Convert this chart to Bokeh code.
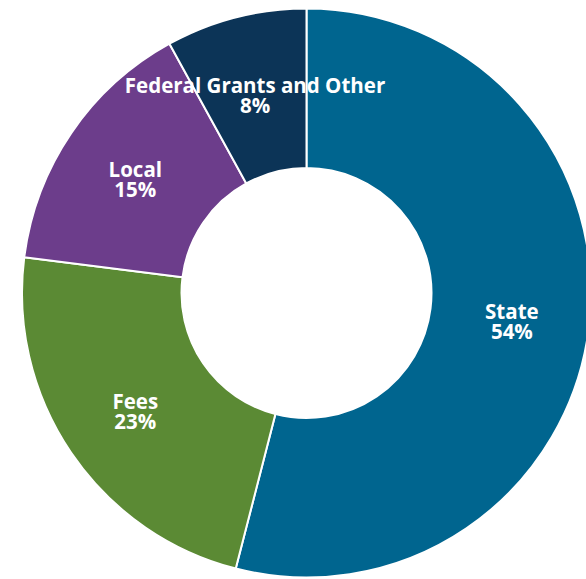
import numpy as np
from bokeh.plotting import figure
from bokeh.models import Range1d, ColumnDataSource
from bokeh.core.properties import value
from bokeh.embed import file_html
from bokeh.resources import INLINE

categories = ["State", "Fees", "Local", "Federal Grants and Other"]
shares = [54, 23, 15, 8]
colors = ["#00658F", "#5B8A34", "#6C3D8B", "#0C3457"]

W, H = 586, 579
cx, cy = 306, H - 292.5
r_out, r_in = 284.5, 125
r_lab = 207

frac = np.array(shares, dtype=float) / sum(shares)
cum = np.concatenate([[0], np.cumsum(frac)])
start = np.pi / 2 - 2 * np.pi * cum[:-1]
end = np.pi / 2 - 2 * np.pi * cum[1:]
mid = (start + end) / 2

src = ColumnDataSource(dict(
    cat=categories,
    pct=[f"{s}%" for s in shares],
    start=start, end=end, color=colors,
    lx=cx + r_lab * np.cos(mid), ly=cy + r_lab * np.sin(mid),
))

p = figure(width=W, height=H, x_range=Range1d(0, W), y_range=Range1d(0, H),
           output_backend="svg", toolbar_location=None, min_border=0,
           outline_line_color=None)
p.axis.visible = False
p.grid.visible = False
p.background_fill_color = "white"
p.border_fill_color = "white"

p.annular_wedge(x=cx, y=cy, inner_radius=r_in, outer_radius=r_out,
                start_angle="start", end_angle="end", direction="clock",
                fill_color="color", line_color="white", line_width=2, source=src)

common = dict(text_color="white", text_font=value("Open Sans"), text_font_style="bold",
              text_font_size="20.5px", text_align="center", text_baseline="middle")
p.text(x="lx", y="ly", text="cat", y_offset=-8, source=src, **common)
p.text(x="lx", y="ly", text="pct", y_offset=12, source=src, **common)

open("out.html", "w").write(file_html(p, INLINE))
